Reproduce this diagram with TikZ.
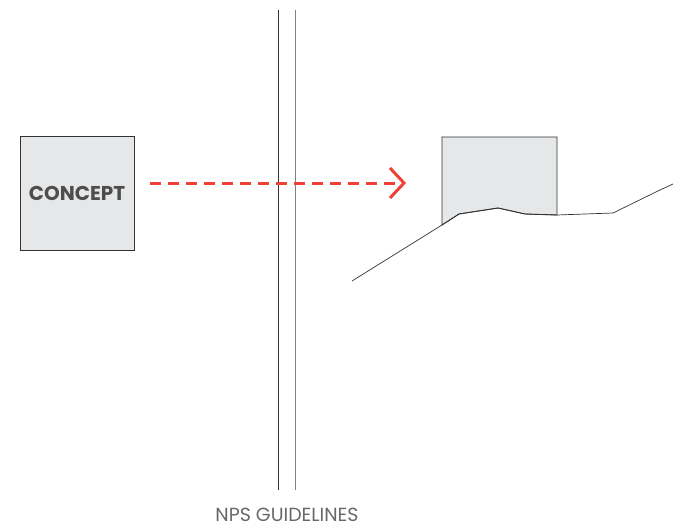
\documentclass[tikz,border=0pt]{standalone}
\usepackage{fontspec}
\setmainfont{Poppins}
\begin{document}
\begin{tikzpicture}[x=1pt,y=-1pt,
  boxfill/.style={fill=boxgray,draw=linegray,line width=0.9pt},
  redarrow/.style={draw=arrowred,line width=3pt},
  terrain/.style={draw=linegray,line width=0.7pt,line join=round}]
\definecolor{boxgray}{HTML}{E6E7E8}
\definecolor{linegray}{HTML}{333333}
\definecolor{arrowred}{HTML}{EF4136}
\definecolor{textgray}{HTML}{4D4D4D}
\useasboundingbox (0,0) rectangle (673,527);
% concept box
\node[boxfill,minimum width=114pt,minimum height=114pt,inner sep=0pt,
  font=\fontsize{20}{22}\selectfont\bfseries,text=textgray] (concept) at (77,193) {CONCEPT};
% guideline lines
\coordinate (l1t) at (278,10); \coordinate (l1b) at (278,490);
\coordinate (l2t) at (295,10); \coordinate (l2b) at (295,490);
\draw[line width=0.9pt,draw=linegray] (l1t) -- (l1b);
\draw[line width=0.9pt,draw=gray] (l2t) -- (l2b);
\node[font=\fontsize{19}{21}\selectfont,text=textgray!85] (nps) at (287,515) {NPS GUIDELINES};
% dashed arrow
\coordinate (as) at (150,183);
\coordinate (ae) at (404,183);
\draw[redarrow,dash pattern=on 11pt off 7pt] (as) -- (ae);
\coordinate (c1) at (390,168); \coordinate (c2) at (390,198);
\draw[redarrow,line cap=butt,line join=miter] (c1) -- (ae) -- (c2);
% building box
\coordinate (b1) at (442,225); \coordinate (b2) at (442,137);
\coordinate (b3) at (557,137); \coordinate (b4) at (557,215);
\coordinate (t2) at (459,214); \coordinate (t3) at (498,208); \coordinate (t4) at (525,214);
\filldraw[boxfill] (b1) -- (b2) -- (b3) -- (b4) -- (t4) -- (t3) -- (t2) -- cycle;
% terrain
\coordinate (t0) at (352,281); \coordinate (t5) at (613,213);
\coordinate (t6) at (660,190); \coordinate (t7) at (673,184);
\draw[terrain] (t0) -- (b1) -- (t2) -- (t3) -- (t4) -- (b4) -- (t5) -- (t6) -- (t7);
\end{tikzpicture}
\end{document}
